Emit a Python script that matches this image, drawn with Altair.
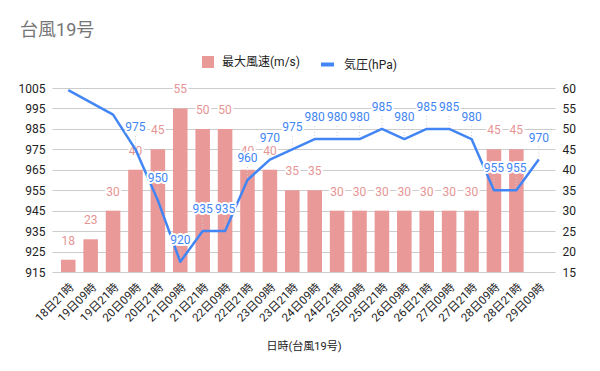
import altair as alt
import pandas as pd

times = ["18日21時", "19日09時", "19日21時", "20日09時", "20日21時", "21日09時",
         "21日21時", "22日09時", "22日21時", "23日09時", "23日21時", "24日09時",
         "24日21時", "25日09時", "25日21時", "26日09時", "26日21時", "27日09時",
         "27日21時", "28日09時", "28日21時", "29日09時"]
wind = [18, 23, 30, 40, 45, 55, 50, 50, 40, 40, 35, 35, 30, 30, 30, 30, 30, 30, 30, 45, 45, None]
pressure = [1004, None, 992, 975, 950, 920, 935, 935, 960, 970, 975, 980, 980, 980, 985,
            980, 985, 985, 980, 955, 955, 970]
pressure_labeled = [False, False, False, True, True, True, True, True, True, True, True,
                    True, True, True, True, True, True, True, True, True, True, True]

wind_name = "最大風速(m/s)"
press_name = "気圧(hPa)"

df = pd.DataFrame({"time": times, "wind": wind, "pressure": pressure,
                   "plabel": pressure_labeled})
df["wind_series"] = wind_name
df["press_series"] = press_name

FONT = "Roboto, 'Noto Sans CJK JP', sans-serif"
PINK = "#ea9999"
PINK_TXT = "#e69595"
BLUE = "#4285f4"
DARK = "#222222"

x = alt.X("time:N", sort=times,
          scale=alt.Scale(paddingInner=0.35, paddingOuter=0.4),
          axis=alt.Axis(title="日時(台風19号)", labelAngle=-45, ticks=False, domain=False,
                        labelFontSize=11.5, labelColor=DARK, labelFont=FONT,
                        titleFont=FONT, titleFontSize=11, titleFontWeight="normal",
                        titleColor=DARK, titlePadding=17, labelPadding=9))

base = alt.Chart(df)

# ---- wind layer (right axis)
wv = base.transform_filter("isValid(datum.wind)")
y_w = alt.Y("wind:Q", scale=alt.Scale(domain=[15, 60], nice=False, zero=False),
            axis=alt.Axis(orient="right", values=list(range(15, 61, 5)), grid=False,
                          ticks=False, domain=False, title=None, labelFontSize=12,
                          labelColor=DARK, labelFont=FONT, labelPadding=7, format="d"))

bars = wv.mark_bar(clip=True).encode(
    x=x, y=y_w, y2=alt.datum(15),
    color=alt.Color("wind_series:N", scale=alt.Scale(domain=[wind_name], range=[PINK]),
                    legend=alt.Legend(orient="none", legendX=150, legendY=-32, title=None,
                                      symbolType="square", symbolSize=144,
                                      symbolStrokeWidth=0, labelFontSize=12,
                                      labelFont=FONT, labelColor=DARK, labelOffset=8)))
wind_halo = wv.mark_text(dy=-19, fontSize=12, font=FONT, color="white", stroke="white",
                         strokeWidth=4, strokeJoin="round").encode(
    x=x, y=y_w, text="wind:Q")
wind_txt = wv.mark_text(dy=-19, fontSize=12, font=FONT, color=PINK_TXT).encode(
    x=x, y=y_w, text="wind:Q")
wind_layer = alt.layer(bars, wind_halo, wind_txt)

# ---- pressure layer (left axis)
pv = base.transform_filter("isValid(datum.pressure)")
pl = pv.transform_filter("datum.plabel")
y_p = alt.Y("pressure:Q", scale=alt.Scale(domain=[915, 1005], nice=False, zero=False),
            axis=alt.Axis(orient="left", values=list(range(915, 1006, 10)), grid=True,
                          gridColor="#cccccc", ticks=False, domain=False, title=None,
                          labelFontSize=12, labelColor=DARK, labelFont=FONT,
                          labelPadding=7, format="d"))

leaders = pl.mark_rule(color="#cfcfcf", strokeDash=[1, 2], strokeWidth=1,
                       y2Offset=-14).encode(
    x=x, y=y_p, y2="pressure:Q")
line = pv.mark_line(strokeWidth=2.5, strokeJoin="round").encode(
    x=x, y=y_p,
    stroke=alt.Stroke("press_series:N", scale=alt.Scale(domain=[press_name], range=[BLUE]),
                      legend=alt.Legend(orient="none", legendX=267, legendY=-32, title=None,
                                        symbolType="stroke", symbolSize=169,
                                        symbolStrokeWidth=4, labelFontSize=12,
                                        labelFont=FONT, labelColor=DARK, labelOffset=8)))
p_halo = pl.mark_text(dy=-22, fontSize=12, font=FONT, color="white", stroke="white",
                      strokeWidth=4, strokeJoin="round").encode(
    x=x, y=y_p, text="pressure:Q")
p_txt = pl.mark_text(dy=-22, fontSize=12, font=FONT, color=BLUE).encode(
    x=x, y=y_p, text="pressure:Q")
press_layer = alt.layer(leaders, line, p_halo, p_txt)

chart = alt.layer(wind_layer, press_layer).resolve_scale(
    y="independent", color="independent", stroke="independent"
).properties(
    width=503, height=184,
    title=alt.Title("台風19号", anchor="start", frame="bounds", fontSize=18,
                    color="#757575", font=FONT, fontWeight="normal", offset=16, dx=2),
    autosize="none",
    padding={"left": 44, "top": 80, "right": 37, "bottom": 91},
).configure(background="white", view=alt.ViewConfig(stroke=None))

chart.save("out.html", embed_options={"renderer": "svg", "actions": False})
